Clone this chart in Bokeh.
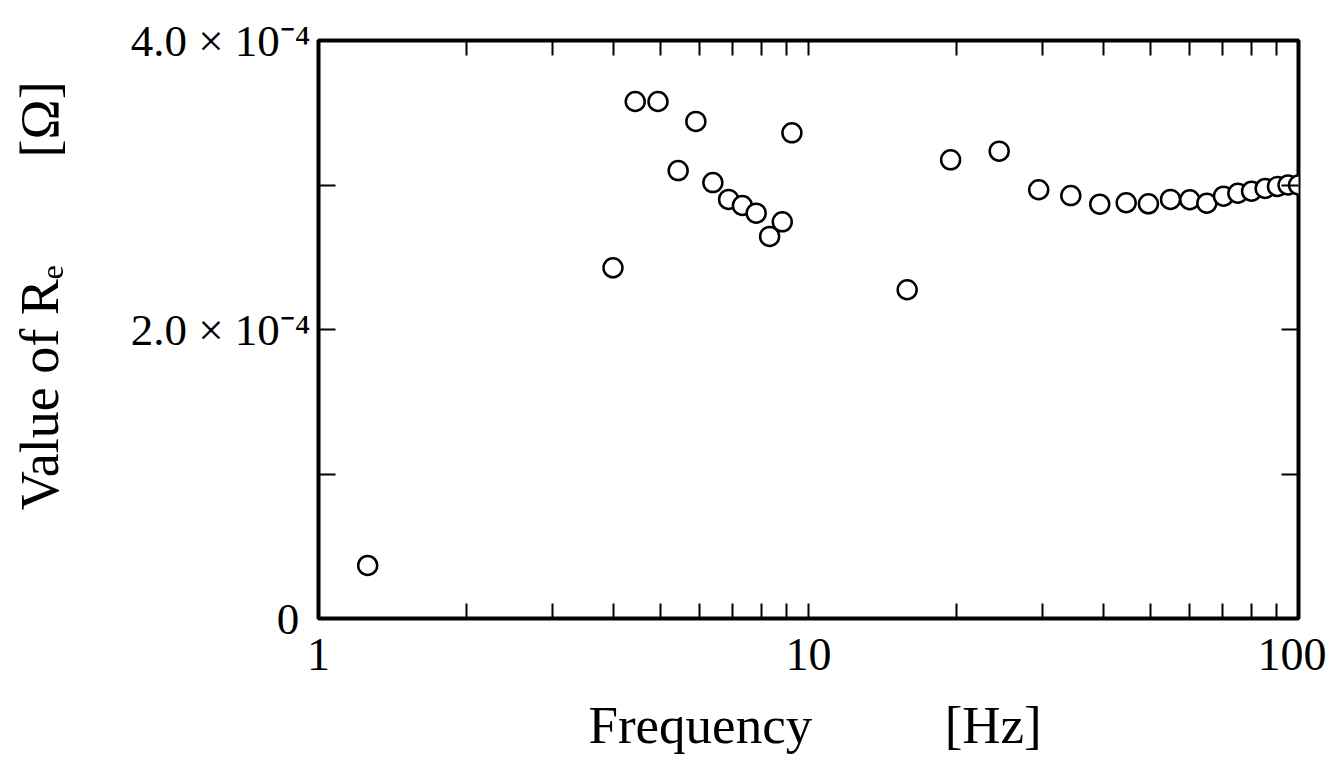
from bokeh.plotting import figure
from bokeh.models import (FixedTicker, LinearAxis, LogAxis, Range1d,
                          CustomJSTickFormatter, ColumnDataSource)
from bokeh.embed import file_html
from bokeh.resources import INLINE

# ---- data ----
freq_hz = [1.26, 3.99, 4.43, 4.93, 5.42, 5.89, 6.38, 6.87, 7.33, 7.82, 8.33,
           8.84, 9.25, 15.9, 19.5, 24.5, 29.5, 34.3, 39.3, 44.5, 49.4, 54.8,
           60.0, 65.0, 70.3, 75.2, 80.2, 85.5, 90.6, 95.2, 100.0]
re_ohm = [0.367e-4, 2.427e-4, 3.578e-4, 3.578e-4, 3.10e-4, 3.44e-4, 3.017e-4,
          2.90e-4, 2.858e-4, 2.805e-4, 2.644e-4, 2.745e-4, 3.361e-4, 2.275e-4,
          3.174e-4, 3.234e-4, 2.967e-4, 2.927e-4, 2.867e-4, 2.877e-4, 2.87e-4,
          2.90e-4, 2.898e-4, 2.874e-4, 2.923e-4, 2.943e-4, 2.957e-4, 2.976e-4,
          2.99e-4, 3.00e-4, 3.00e-4]

x_major = [1, 10, 100]
x_minor = [2, 3, 4, 5, 6, 7, 8, 9, 20, 30, 40, 50, 60, 70, 80, 90]
x_labels = {1: "1", 10: "10", 100: "100"}
y_major = [0, 0.0002, 0.0004]
y_minor = [0.0001, 0.0003]
y_labels = {0: "0\u00a0",
            0.0002: "2.0\u00a0\u00d7\u00a010\u207b\u2074",
            0.0004: "4.0\u00a0\u00d7\u00a010\u207b\u2074"}

NB = "\u00a0"
x_title = NB + "Frequency" + NB * 10 + "[Hz]"
y_title = NB * 5 + "Value of R\u2091" + NB * 8 + "[\u03a9]"

FONT = "Liberation Serif"

p = figure(width=1326, height=757, x_axis_type="log",
           x_range=Range1d(1, 100), y_range=Range1d(0, 0.0004),
           output_backend="svg", toolbar_location=None,
           min_border_left=318, min_border_right=28,
           min_border_top=40, min_border_bottom=139)
p.grid.visible = False
p.background_fill_color = "white"
p.border_fill_color = "white"
p.outline_line_color = "black"
p.outline_line_width = 4

src = ColumnDataSource(dict(f=freq_hz, r=re_ohm))
p.scatter("f", "r", source=src, size=19, marker="circle",
          fill_color="white", line_color="black", line_width=2.5)

def style(ax, ticker, tick_in_major, tick_in_minor):
    ax.ticker = ticker
    ax.axis_line_color = None
    ax.major_tick_in = tick_in_major
    ax.major_tick_out = 0
    ax.minor_tick_in = tick_in_minor
    ax.minor_tick_out = 0
    ax.major_tick_line_width = 2
    ax.minor_tick_line_width = 2
    ax.major_tick_line_color = "black"
    ax.minor_tick_line_color = "black"
    ax.major_label_text_font = FONT
    ax.major_label_text_color = "black"
    ax.axis_label_text_font = FONT
    ax.axis_label_text_font_style = "normal"
    ax.axis_label_text_color = "black"

xt = FixedTicker(ticks=x_major, minor_ticks=x_minor)
yt = FixedTicker(ticks=y_major, minor_ticks=y_minor)

xb = p.xaxis[0]
style(xb, xt, 15, 15)
xb.major_label_overrides = x_labels
xb.major_label_text_font_size = "46px"
xb.major_label_standoff = 20
xb.axis_label = x_title
xb.axis_label_text_font_size = "53px"
xb.axis_label_standoff = 23

yl = p.yaxis[0]
style(yl, yt, 17, 17)
yl.major_label_overrides = y_labels
yl.major_label_text_font_size = "45px"
yl.major_label_standoff = 8
yl.axis_label = y_title
yl.axis_label_text_font_size = "54px"
yl.axis_label_standoff = 58

blank = CustomJSTickFormatter(code="return ''")
xa = LogAxis()
style(xa, xt, 15, 15)
xa.formatter = blank
p.add_layout(xa, "above")
yr = LinearAxis()
style(yr, yt, 17, 17)
yr.formatter = blank
p.add_layout(yr, "right")

open("out.html", "w").write(file_html(p, INLINE))
